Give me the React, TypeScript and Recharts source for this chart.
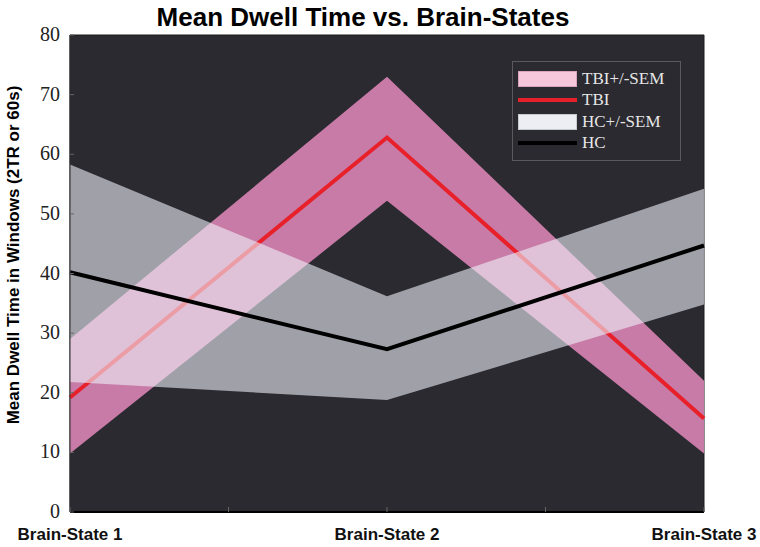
import { ComposedChart, Area, Line, XAxis, YAxis, ReferenceArea } from 'recharts'

const states = ['Brain-State 1', 'Brain-State 2', 'Brain-State 3']
const xPos = [1, 2, 3]
const tbiMean = [19.2, 62.8, 15.7]
const tbiLower = [9.8, 52.2, 9.8]
const tbiUpper = [29.0, 73.0, 22.0]
const hcMean = [40.2, 27.3, 44.7]
const hcLower = [21.8, 18.8, 34.8]
const hcUpper = [58.3, 36.2, 54.2]
const xTicks = [1, 1.5, 2, 2.5, 3]
const yTicks = [0, 10, 20, 30, 40, 50, 60, 70, 80]

const data = xPos.map((x, i) => ({
  x,
  tbi: tbiMean[i],
  tbiRange: [tbiLower[i], tbiUpper[i]],
  hc: hcMean[i],
  hcRange: [hcLower[i], hcUpper[i]],
}))

const legendItems = [
  { label: 'TBI+/-SEM', kind: 'box', color: '#f6c6da', border: '#d9a3bd' },
  { label: 'TBI', kind: 'line', color: '#e8202a' },
  { label: 'HC+/-SEM', kind: 'box', color: '#eceef4', border: '#c8cad2' },
  { label: 'HC', kind: 'line', color: '#000000' },
]

const sans = '"Liberation Sans", Arial, sans-serif'
const serif = '"Liberation Serif", "Times New Roman", serif'

const XTick = (props: any) => {
  const { x, y, payload } = props
  const i = xPos.indexOf(payload.value)
  return (
    <g>
      <line x1={x} x2={x} y1={y} y2={y - 5} stroke="#666" />
      {i >= 0 && (
        <text x={x} y={y + 28} textAnchor="middle" fontFamily={sans} fontWeight="bold" fontSize={17} fill="#111">
          {states[i]}
        </text>
      )}
    </g>
  )
}

const YTick = (props: any) => {
  const { x, y, payload } = props
  return (
    <g>
      <line x1={x} x2={x + 4} y1={y} y2={y} stroke="#666" />
      <text x={x - 10} y={y + 6} textAnchor="end" fontFamily={serif} fontSize={20} fill="#222">
        {payload.value}
      </text>
    </g>
  )
}

const LegendBox = () => (
  <div
    style={{
      position: 'absolute', left: 512, top: 61, width: 158,
      border: '1px solid #5a5a5e', background: '#2b2a30', padding: '6px 4px 6px 5px',
    }}
  >
    {legendItems.map((it) => (
      <div key={it.label} style={{ display: 'flex', alignItems: 'center', height: 21.5 }}>
        {it.kind === 'box' ? (
          <div style={{ width: 57, height: 14, background: it.color, border: `1px solid ${it.border}` }} />
        ) : (
          <div style={{ width: 59, height: 4, background: it.color }} />
        )}
        <span style={{ marginLeft: 5, fontFamily: serif, fontSize: 17, color: '#e6e6e6', lineHeight: '18px' }}>{it.label}</span>
      </div>
    ))}
  </div>
)

export default function App() {
  return (
    <div style={{ position: 'absolute', left: 0, top: 0, width: 760, height: 547, background: '#fff' }}>
      <div
        style={{
          position: 'absolute', top: 2, left: 0, width: 726, textAlign: 'center',
          fontFamily: sans, fontWeight: 'bold', fontSize: 26, lineHeight: '30px', color: '#000',
        }}
      >
        Mean Dwell Time vs. Brain-States
      </div>
      <div
        style={{
          position: 'absolute', left: 14, top: 255, transform: 'translate(-50%, -50%) rotate(-90deg)',
          whiteSpace: 'nowrap', fontFamily: sans, fontWeight: 'bold', fontSize: 17, color: '#000',
        }}
      >
        Mean Dwell Time in Windows (2TR or 60s)
      </div>
      <ComposedChart width={760} height={547} data={data} margin={{ top: 35, right: 56, bottom: 0, left: 0 }}>
        <XAxis
          dataKey="x" type="number" domain={[1, 3]} ticks={xTicks} interval={0}
          tick={<XTick />} tickLine={false} tickSize={0} tickMargin={0} height={35}
          axisLine={{ stroke: '#000', strokeWidth: 2 }}
        />
        <YAxis
          type="number" domain={[0, 80]} ticks={yTicks} interval={0}
          tick={<YTick />} tickLine={false} tickSize={0} tickMargin={0} width={70}
          axisLine={{ stroke: '#333' }}
        />
        <ReferenceArea x1={1} x2={3} y1={0} y2={80} fill="#2b2a30" fillOpacity={1} stroke="#1a1a1d" zIndex={0} />
        <Area type="linear" dataKey="tbiRange" stroke="none" fill="#f090c6" fillOpacity={0.8} isAnimationActive={false} zIndex={101} />
        <Line type="linear" dataKey="tbi" stroke="#e8202a" strokeWidth={4} dot={false} isAnimationActive={false} zIndex={102} />
        <Area type="linear" dataKey="hcRange" stroke="none" fill="#eef0f8" fillOpacity={0.6} isAnimationActive={false} zIndex={103} />
        <Line type="linear" dataKey="hc" stroke="#000" strokeWidth={4} dot={false} isAnimationActive={false} zIndex={104} />
      </ComposedChart>
      <LegendBox />
    </div>
  )
}
